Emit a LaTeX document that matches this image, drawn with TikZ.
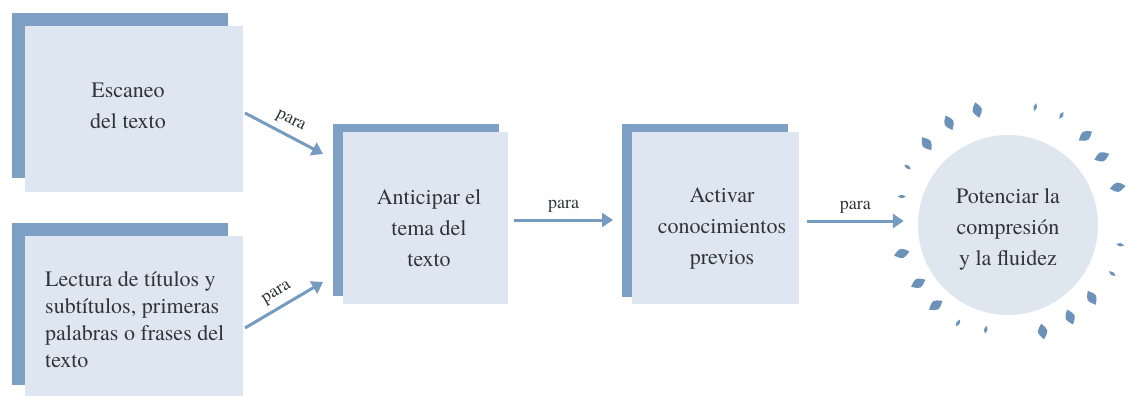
\documentclass[tikz,border=0pt]{standalone}
\usepackage{fontspec}
\setmainfont{texgyretermes-regular.otf}
\newfontfamily\timesf{texgyretermes-regular.otf}
\usetikzlibrary{arrows.meta,calc}
\definecolor{darkbox}{RGB}{125,160,196}
\definecolor{lightbox}{RGB}{222,231,241}
\definecolor{circfill}{RGB}{222,230,240}
\definecolor{arrowc}{RGB}{118,155,192}
\definecolor{petalc}{RGB}{108,146,186}
\definecolor{txt}{RGB}{50,52,58}
\tikzset{
  backbox/.style={fill=darkbox,draw=none,inner sep=0pt,outer sep=0pt},
  frontbox/.style={fill=lightbox,draw=none,inner sep=0pt,outer sep=0pt},
  lbl/.style={text=txt,font=\timesf\fontsize{22}{31}\selectfont,align=center,inner sep=0pt},
  lblleft/.style={text=txt,font=\timesf\fontsize{22}{27}\selectfont,align=left,inner sep=0pt},
  conn/.style={draw=arrowc,line width=3pt,-{Triangle[length=11pt,width=14pt]}},
  paralbl/.style={text=txt,font=\timesf\fontsize{18}{20}\selectfont,inner sep=0pt},
  petal/.style={fill=petalc,draw=none}
}
\begin{document}
\begin{tikzpicture}[x=1pt,y=-1pt]
\useasboundingbox (0,0) rectangle (1138,396);
% box 1
\node[backbox,minimum width=216pt,minimum height=165pt] (b1back) at (120,95.5) {};
\node[frontbox,minimum width=218pt,minimum height=166pt] (b1) at (134,109) {};
\node[lbl] (t1) at (128,106) {Escaneo\\del texto};
% box 2
\node[backbox,minimum width=216pt,minimum height=162pt] (b2back) at (120,304) {};
\node[frontbox,minimum width=218pt,minimum height=160pt] (b2) at (134,316) {};
\node[lblleft,anchor=west] (t2) at (45,320) {Lectura de títulos y\\subtítulos, primeras\\palabras o frases del\\texto};
% box 3
\node[backbox,minimum width=166pt,minimum height=172pt] (b3back) at (416,210) {};
\node[frontbox,minimum width=165pt,minimum height=172pt] (b3) at (425.5,218) {};
\node[lbl] (t3) at (429,228.5) {Anticipar el\\tema del\\texto};
% box 4
\node[backbox,minimum width=166pt,minimum height=173pt] (b4back) at (705,210.5) {};
\node[frontbox,minimum width=167pt,minimum height=172pt] (b4) at (715.5,218) {};
\node[lbl] (t4) at (722,228.5) {Activar\\conocimientos\\previos};
% circle
\node[circle,fill=circfill,minimum size=180pt,inner sep=0pt] (c) at (1008,225) {};
\node[lbl] (t5) at (1008,229) {Potenciar la\\compresión\\y la fluidez};
\begin{scope}[shift={(1008,225)},y=1pt]
\foreach \a/\r/\o/\l/\w in {
  105/119/105/8/3.2, 77/121/75/4/1.1, 64/122/60/4/1.2, 49/118/35/8/3.2,
  36/116/22/8/3.2, 19/116/10/8/3.2, -10/114/-10/4/1.1, -25/115/-35/4/1.1,
  -41/111/-60/8/3.2, -56/111/-68/8/3.2, -72/112/-80/8/3.2, -102/107/80/4/1.1,
  -117/110/60/4/1.1, -132/108/34/8/3.2, -147/107/27/8/3.2, -165/110/15/8/3.2,
  165/110/0/4/1.1, 150/116/145/4/1.1, 135/115/126/8/3.2, 120/118/115/8/3.2}{
  \fill[petal,shift={(\a:\r)},rotate=\o] (-\l,0) .. controls (0,2*\w) .. (\l,0) .. controls (0,-2*\w) .. cycle;
}
\end{scope}
% connectors
\draw[conn] ($(b1.east)+(2,4)$) -- node[paralbl,sloped,above=6pt] {para} ($(b3back.north west)+(-10,30)$);
\draw[conn] ($(b2.east)+(2,12)$) -- node[paralbl,sloped,above=6pt] {para} ($(b3back.south west)+(-10,-14)$);
\draw[conn] ($(b3.east)+(6,2)$) -- node[paralbl,above=6pt] {para} ($(b4back.west)+(-9,9.5)$);
\draw[conn] ($(b4.east)+(8,3)$) -- node[paralbl,above=6pt] {para} ($(c.west)+(-14,-4)$);
\end{tikzpicture}
\end{document}
